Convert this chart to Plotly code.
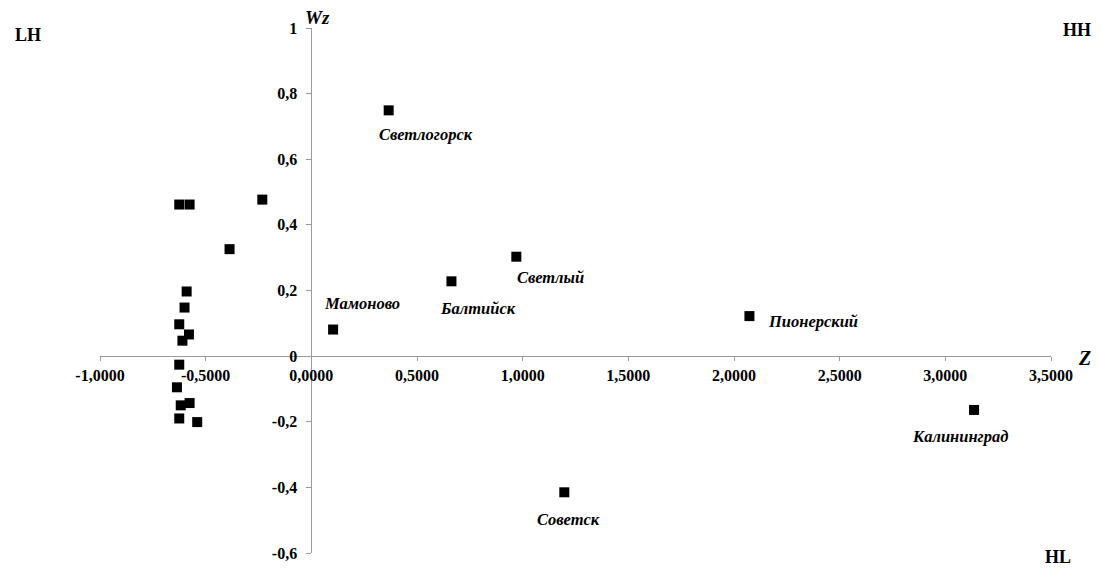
import plotly.graph_objects as go

# Data (Z, Wz)
unlabeled_z = [-0.625, -0.576, -0.232, -0.387, -0.590, -0.600, -0.625, -0.579, -0.610,
               -0.625, -0.636, -0.576, -0.618, -0.625, -0.540]
unlabeled_wz = [0.462, 0.462, 0.477, 0.326, 0.197, 0.148, 0.097, 0.066, 0.047,
                -0.026, -0.095, -0.143, -0.150, -0.190, -0.201]

city_names = ["Светлогорск", "Светлый", "Балтийск", "Мамоново", "Пионерский", "Калининград", "Советск"]
city_z = [0.366, 0.970, 0.663, 0.103, 2.073, 3.136, 1.197]
city_wz = [0.749, 0.303, 0.228, 0.081, 0.122, -0.164, -0.415]
label_dx = [37, 34, 27, 29, 64, -14, 4]
label_dy = [-24, -21, -27, 26, -5, -27, -27]

x_tickvals = [-1.0, -0.5, 0.0, 0.5, 1.0, 1.5, 2.0, 2.5, 3.0, 3.5]
x_ticktext = ["-1,0000", "-0,5000", "0,0000", "0,5000", "1,0000", "1,5000",
              "2,0000", "2,5000", "3,0000", "3,5000"]
y_tickvals = [-0.6, -0.4, -0.2, 0.0, 0.2, 0.4, 0.6, 0.8, 1.0]
y_ticktext = ["-0,6", "-0,4", "-0,2", "0", "0,2", "0,4", "0,6", "0,8", "1"]

quadrant_labels = ["LH", "HH", "HL"]

XMIN, XMAX = -1.0, 3.5
YMIN, YMAX = -0.6, 1.0

FONT = "Liberation Serif, Times New Roman, serif"
AXIS_COLOR = "#9a9a9a"

fig = go.Figure()
fig.add_trace(go.Scatter(
    x=unlabeled_z + city_z, y=unlabeled_wz + city_wz, mode="markers",
    marker=dict(symbol="square", size=10, color="black"),
    hoverinfo="x+y", showlegend=False,
))

for name, x, y, dx, dy in zip(city_names, city_z, city_wz, label_dx, label_dy):
    fig.add_annotation(x=x, y=y, xref="x", yref="y", text=name, showarrow=False,
                       xshift=dx, yshift=dy, xanchor="center", yanchor="middle",
                       font=dict(family=FONT, size=16.5, color="black", weight="bold", style="italic"))

corner_pos = [(-0.0757, 0.987), (1.027, 0.996), (1.007, -0.008)]
for t, (px, py) in zip(quadrant_labels, corner_pos):
    fig.add_annotation(x=px, y=py, xref="paper", yref="paper", text=t, showarrow=False,
                       xanchor="center", yanchor="middle",
                       font=dict(family=FONT, size=18, color="black", weight="bold"))

fig.add_annotation(x=0.229, y=1.020, xref="paper", yref="paper", text="Wz", showarrow=False,
                   xanchor="center", yanchor="middle",
                   font=dict(family=FONT, size=19, color="black", weight="bold", style="italic"))
fig.add_annotation(x=1.035, y=0.371, xref="paper", yref="paper", text="Z", showarrow=False,
                   xanchor="center", yanchor="middle",
                   font=dict(family=FONT, size=20, color="black", weight="bold", style="italic"))

x_pos = (0 - YMIN) / (YMAX - YMIN)
y_pos = (0 - XMIN) / (XMAX - XMIN)

# page body has an 8px margin, so the figure is sized/margined to compensate
fig.update_layout(
    width=1093, height=571,
    margin=dict(l=92, r=50, t=17, b=26),
    paper_bgcolor="white", plot_bgcolor="white",
    xaxis=dict(range=[XMIN, XMAX], anchor="free", position=x_pos,
               showgrid=False, zeroline=False, showline=True, linecolor=AXIS_COLOR, linewidth=1,
               ticks="outside", ticklen=4, tickcolor=AXIS_COLOR,
               tickvals=x_tickvals, ticktext=x_ticktext, ticklabelstandoff=1,
               tickfont=dict(family=FONT, size=16, color="black", weight="bold")),
    yaxis=dict(range=[YMIN, YMAX], anchor="free", position=y_pos,
               showgrid=False, zeroline=False, showline=True, linecolor=AXIS_COLOR, linewidth=1,
               ticks="outside", ticklen=5, tickcolor=AXIS_COLOR,
               tickvals=y_tickvals, ticktext=y_ticktext, ticklabelstandoff=6,
               tickfont=dict(family=FONT, size=16, color="black", weight="bold")),
)

fig.write_html("out.html")
